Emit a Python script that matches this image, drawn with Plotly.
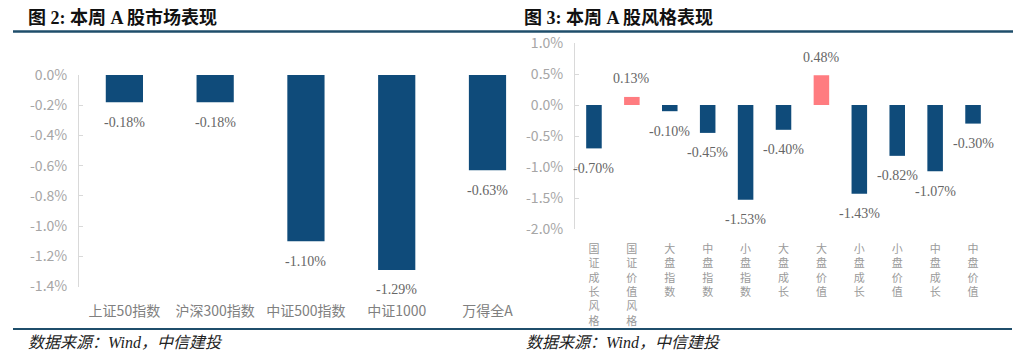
import plotly.graph_objects as go

# ---------------- data ----------------
market_cats = ["上证50指数", "沪深300指数", "中证500指数", "中证1000", "万得全A"]
market_vals = [-0.18, -0.18, -1.10, -1.29, -0.63]

style_cats = ["国证成长风格", "国证价值风格", "大盘指数", "中盘指数", "小盘指数",
              "大盘成长", "大盘价值", "小盘成长", "小盘价值", "中盘成长", "中盘价值"]
style_vals = [-0.70, 0.13, -0.10, -0.45, -1.53, -0.40, 0.48, -1.43, -0.82, -1.07, -0.30]

left_yticks = [0.0, -0.2, -0.4, -0.6, -0.8, -1.0, -1.2, -1.4]
right_yticks = [1.0, 0.5, 0.0, -0.5, -1.0, -1.5, -2.0]

title_left = "图 2: 本周 A 股市场表现"
title_right = "图 3: 本周 A 股风格表现"
source_text = "数据来源：Wind，中信建投"

# ---------------- styling ----------------
W, H = 1024, 354
NEG = "#0F4B7A"
POS = "#FF7C80"
RULE = "#1F4E6B"
SANS = "Noto Sans CJK SC, Noto Sans, sans-serif"
SERIF = "Liberation Serif, Noto Sans CJK SC, serif"


def px_x(v):
    return v / W


def px_y(v):
    return 1 - v / H


def pct(v):
    return f"{v:.1f}%"


left_dom_y = [px_y(286.5), px_y(75)]
right_dom_y = [px_y(229), px_y(43)]
left_range_y = [min(left_yticks), max(left_yticks)]
right_range_y = [min(right_yticks), max(right_yticks)]

# left chart visible x-range (clipped on the right like the reference)
left_xrange = [-0.5, len(market_cats) - 0.5 - 0.23]
right_xrange = [-0.5, len(style_cats) - 0.5]

fig = go.Figure()

fig.add_trace(go.Bar(
    x=market_cats, y=market_vals, xaxis="x", yaxis="y",
    marker=dict(color=[POS if v > 0 else NEG for v in market_vals], line=dict(width=0)),
    width=0.41, showlegend=False, hoverinfo="skip",
))
fig.add_trace(go.Bar(
    x=style_cats, y=style_vals, xaxis="x2", yaxis="y2",
    marker=dict(color=[POS if v > 0 else NEG for v in style_vals], line=dict(width=0)),
    width=0.41, showlegend=False, hoverinfo="skip",
))

annotations = []
# value labels
for c, v in zip(market_cats, market_vals):
    annotations.append(dict(x=c, y=v, xref="x", yref="y", text=f"{v:.2f}%",
                            showarrow=False, yshift=(18 if v > 0 else -20),
                            font=dict(family=SERIF, size=14, color="#666666")))
for c, v in zip(style_cats, style_vals):
    annotations.append(dict(x=c, y=v, xref="x2", yref="y2", text=f"{v:.2f}%",
                            showarrow=False, yshift=(18 if v > 0 else -20),
                            font=dict(family=SERIF, size=14, color="#666666")))

# titles and source
for x0, t in [(26, title_left), (522, title_right)]:
    annotations.append(dict(x=px_x(x0), y=px_y(18), xref="paper", yref="paper",
                            xanchor="left", yanchor="middle", showarrow=False,
                            text=f"<b>{t}</b>",
                            font=dict(family=SERIF, size=18, color="#111111")))
for x0 in [26, 524]:
    annotations.append(dict(x=px_x(x0), y=px_y(342), xref="paper", yref="paper",
                            xanchor="left", yanchor="middle", showarrow=False,
                            text=f"<i>{source_text}</i>",
                            font=dict(family=SERIF, size=16, color="#222222")))

shapes = [
    dict(type="line", xref="paper", yref="paper", x0=px_x(13), x1=px_x(1013),
         y0=px_y(31.5), y1=px_y(31.5), line=dict(color=RULE, width=2.5)),
    dict(type="line", xref="paper", yref="paper", x0=px_x(13), x1=px_x(1012),
         y0=px_y(329), y1=px_y(329), line=dict(color=RULE, width=2)),
]


def zero_pos(dom, rng):
    return dom[0] + (0 - rng[0]) / (rng[1] - rng[0]) * (dom[1] - dom[0])


ytick_common = dict(showgrid=False, zeroline=False, showline=True, linecolor="#D9D9D9",
                    linewidth=1, ticks="inside", ticklen=4, tickcolor="#D9D9D9",
                    tickfont=dict(family=SANS, size=14, color="#A6A6A6"),
                    ticklabelstandoff=8, fixedrange=True, automargin=False)

fig.update_layout(
    width=W, height=H,
    margin=dict(l=0, r=0, t=0, b=0, autoexpand=False),
    paper_bgcolor="white", plot_bgcolor="white",
    bargap=0.59,
    xaxis=dict(domain=[px_x(79), px_x(512)], anchor="y", type="category",
               range=left_xrange, showline=False, showgrid=False, ticks="",
               tickfont=dict(family=SANS, size=14, color="#808080"),
               ticklabelstandoff=14, automargin=False),
    xaxis3=dict(overlaying="x", anchor="free", position=zero_pos(left_dom_y, left_range_y),
                side="top", range=left_xrange, showline=True, linecolor="#595959",
                linewidth=1.5, ticks="outside", ticklen=5, tickcolor="#595959",
                tickvals=[i - 0.5 for i in range(len(market_cats) + 1)],
                showticklabels=False, showgrid=False, zeroline=False, automargin=False),
    yaxis=dict(domain=left_dom_y, anchor="x", range=left_range_y,
               tickvals=left_yticks, ticktext=[pct(v) for v in left_yticks], **ytick_common),
    xaxis2=dict(domain=[px_x(575), px_x(992)], anchor="y2", type="category",
                range=right_xrange, showline=False, showgrid=False, ticks="",
                tickvals=style_cats, ticktext=["<br>".join(list(c)) for c in style_cats],
                tickfont=dict(family=SANS, size=11, color="#9A9A9A"),
                ticklabelstandoff=12, tickangle=0, automargin=False),
    xaxis4=dict(overlaying="x2", anchor="free", position=zero_pos(right_dom_y, right_range_y),
                side="top", range=right_xrange, showline=True, linecolor="#595959",
                linewidth=1.5, ticks="outside", ticklen=4, tickcolor="#595959",
                tickvals=[i - 0.5 for i in range(len(style_cats) + 1)],
                showticklabels=False, showgrid=False, zeroline=False, automargin=False),
    yaxis2=dict(domain=right_dom_y, anchor="x2", range=right_range_y,
                tickvals=right_yticks, ticktext=[pct(v) for v in right_yticks], **ytick_common),
    annotations=annotations,
    shapes=shapes,
)

fig.write_html("out.html")
